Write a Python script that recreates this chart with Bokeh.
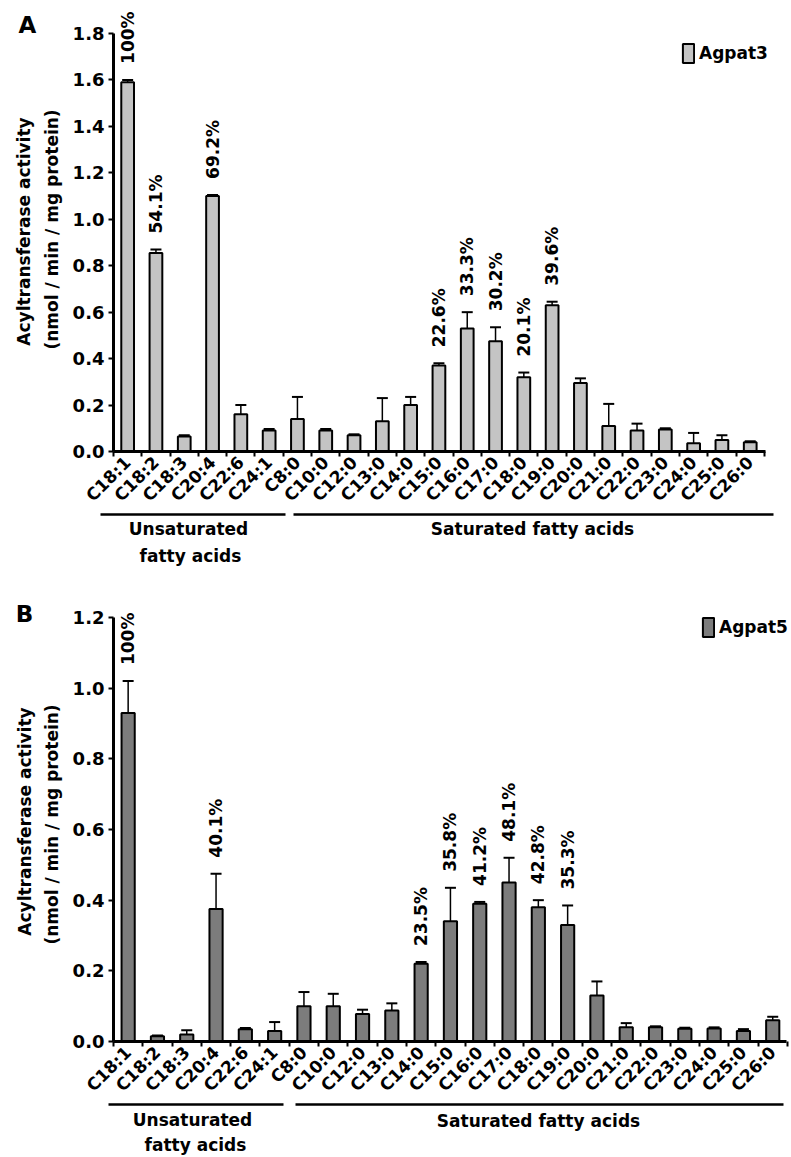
import math
from bokeh.plotting import figure
from bokeh.models import (Range1d, FixedTicker, Whisker, TeeHead, ColumnDataSource,
                          LabelSet, Label, Legend, LegendItem, Arrow, NumeralTickFormatter)
from bokeh.layouts import column
from bokeh.embed import file_html
from bokeh.resources import INLINE
from bokeh.core.properties import value

# ---------------- data ----------------
categories = ["C18:1", "C18:2", "C18:3", "C20:4", "C22:6", "C24:1", "C8:0", "C10:0",
              "C12:0", "C13:0", "C14:0", "C15:0", "C16:0", "C17:0", "C18:0", "C19:0",
              "C20:0", "C21:0", "C22:0", "C23:0", "C24:0", "C25:0", "C26:0"]

agpat3_mean = [1.59, 0.855, 0.065, 1.10, 0.16, 0.09, 0.14, 0.09, 0.07, 0.13, 0.20, 0.37,
               0.53, 0.475, 0.32, 0.63, 0.295, 0.11, 0.09, 0.095, 0.035, 0.05, 0.04]
agpat3_sem = [0.01, 0.015, 0.005, 0.005, 0.04, 0.007, 0.095, 0.007, 0.004, 0.10, 0.035, 0.01,
              0.07, 0.06, 0.02, 0.015, 0.02, 0.095, 0.03, 0.005, 0.045, 0.02, 0.004]
agpat3_pct = ["100%", "54.1%", "", "69.2%", "", "", "", "", "", "", "", "22.6%",
              "33.3%", "30.2%", "20.1%", "39.6%", "", "", "", "", "", "", ""]

agpat5_mean = [0.93, 0.015, 0.02, 0.375, 0.035, 0.03, 0.10, 0.10, 0.078, 0.088, 0.22, 0.34,
               0.39, 0.45, 0.38, 0.33, 0.13, 0.04, 0.04, 0.036, 0.037, 0.03, 0.06]
agpat5_sem = [0.09, 0.002, 0.012, 0.10, 0.003, 0.025, 0.04, 0.035, 0.012, 0.02, 0.005, 0.095,
              0.005, 0.07, 0.02, 0.055, 0.04, 0.012, 0.003, 0.003, 0.003, 0.005, 0.01]
agpat5_pct = ["100%", "", "", "40.1%", "", "", "", "", "", "", "23.5%", "35.8%",
              "41.2%", "48.1%", "42.8%", "35.3%", "", "", "", "", "", "", ""]

yticks_a = [0.0, 0.2, 0.4, 0.6, 0.8, 1.0, 1.2, 1.4, 1.6, 1.8]
yticks_b = [0.0, 0.2, 0.4, 0.6, 0.8, 1.0, 1.2]

y_title = ["Acyltransferase activity", "(nmol / min / mg protein)"]
group_names = ["Unsaturated", "fatty acids", "Saturated fatty acids"]

FONT = "DejaVu Sans"
W = 790
X0 = 0   # page x of the figures' left edge


def panel(letter, name, mean, sem, pct, fill, yticks, L):
    fl, fr, ft, fb = L["frame"]          # axis box edges in page pixels
    ax0, ax1 = -0.5, L["xmax"]
    ay0, ay1 = yticks[0], yticks[-1]
    top = L["fig_top"]
    H = L["fig_h"]

    def fx(px):
        return ax0 + (px - fl) / (fr - fl) * (ax1 - ax0)

    def fy(py):
        return ay0 + (fb - py) / (fb - ft) * (ay1 - ay0)

    p = figure(width=W, height=H, output_backend="svg", toolbar_location=None,
               x_range=Range1d(fx(X0), fx(X0 + W)), y_range=Range1d(fy(top + H), fy(top)),
               min_border=0)
    p.outline_line_color = None
    p.xgrid.visible = False
    p.ygrid.visible = False

    xs = list(range(len(categories)))
    src = ColumnDataSource(dict(x=xs, top=mean,
                                upper=[m + s for m, s in zip(mean, sem)],
                                lower=[max(m - s, 0) for m, s in zip(mean, sem)]))
    r = p.vbar(x="x", top="top", width=0.45, source=src, fill_color=fill,
               line_color="black", line_width=2)
    p.add_layout(Whisker(source=src, base="x", upper="upper", lower="lower",
                         line_color="black", line_width=1.5,
                         upper_head=TeeHead(size=11, line_width=2, line_color="black"),
                         lower_head=TeeHead(size=11, line_width=2, line_color="black")))

    # percentage labels
    gap = 16 * (ay1 - ay0) / (fb - ft)
    idx = [i for i, t in enumerate(pct) if t]
    lsrc = ColumnDataSource(dict(x=idx, y=[mean[i] + sem[i] + gap for i in idx],
                                 t=[pct[i] for i in idx]))
    p.add_layout(LabelSet(x="x", y="y", text="t", source=lsrc, angle=math.pi / 2,
                          text_align="left", text_baseline="middle",
                          text_font=value(FONT), text_font_style="bold",
                          text_font_size="17px", text_color="black"))

    # x axis (drawn at y = 0)
    xa = p.xaxis[0]
    xa.fixed_location = 0
    xa.bounds = (ax0, ax1)
    xa.ticker = FixedTicker(ticks=xs, minor_ticks=[i - 0.5 for i in range(len(xs) + 1)])
    xa.major_label_overrides = {i: c for i, c in enumerate(categories)}
    xa.major_tick_line_color = None
    xa.minor_tick_out = 5
    xa.minor_tick_in = 0
    xa.minor_tick_line_width = 2
    xa.minor_tick_line_color = "black"
    xa.axis_line_width = 3
    xa.axis_line_color = "black"
    xa.major_label_orientation = math.pi / 4
    xa.major_label_text_font = FONT
    xa.major_label_text_font_style = "bold"
    xa.major_label_text_font_size = "17px"
    xa.major_label_text_color = "black"
    xa.major_label_standoff = 2

    # y axis (drawn at x = -0.5)
    ya = p.yaxis[0]
    ya.fixed_location = ax0
    ya.bounds = (ay0, ay1)
    ya.ticker = FixedTicker(ticks=yticks, minor_ticks=[])
    ya.formatter = NumeralTickFormatter(format="0.0")
    ya.axis_line_width = 3
    ya.axis_line_color = "black"
    ya.major_tick_out = 5
    ya.major_tick_in = 0
    ya.major_tick_line_width = 2
    ya.major_tick_line_color = "black"
    ya.minor_tick_line_color = None
    ya.major_label_text_font = FONT
    ya.major_label_text_font_style = "bold"
    ya.major_label_text_font_size = "18px"
    ya.major_label_text_color = "black"
    ya.major_label_standoff = 4

    # legend (location relative to the frame, which is the whole figure)
    lx, lb = L["leg"]
    lg = Legend(items=[LegendItem(label=name, renderers=[r])],
                location=(lx - X0, top + H - lb), glyph_width=14, glyph_height=24,
                label_standoff=4, padding=0, margin=0, spacing=0,
                border_line_color=None, background_fill_alpha=0,
                label_text_font=FONT, label_text_font_style="bold",
                label_text_font_size="17px", label_text_color="black")
    p.add_layout(lg)

    def lab(text, px, py, size, angle=0.0):
        p.add_layout(Label(x=fx(px), y=fy(py), text=text, angle=angle,
                           text_align="center", text_baseline="middle",
                           text_font=FONT, text_font_style="bold",
                           text_font_size=size, text_color="black"))

    lab(letter, *L["letter"], "23px")
    lab(y_title[0], *L["yt1"], "17px", math.pi / 2)
    lab(y_title[1], *L["yt2"], "17px", math.pi / 2)
    lab(group_names[0], *L["g1"], "17px")
    lab(group_names[1], *L["g2"], "17px")
    lab(group_names[2], *L["g3"], "17px")

    gy = L["gline_y"]
    for a, b in L["glines"]:
        p.add_layout(Arrow(start=None, end=None, x_start=fx(a), y_start=fy(gy),
                           x_end=fx(b), y_end=fy(gy), line_width=2.5, line_color="black"))
    return p


LA = dict(fig_top=0, fig_h=574, frame=(113, 765, 33, 451), xmax=22.54,
          leg=(681, 65), letter=(27, 24), yt1=(23, 231), yt2=(51, 229),
          g1=(188, 528), g2=(190, 555), g3=(532, 528),
          gline_y=514, glines=[(100, 285), (293, 773)])
LB = dict(fig_top=574, fig_h=582, frame=(113, 786, 617, 1041), xmax=22.47,
          leg=(701, 639), letter=(24, 613), yt1=(24, 821), yt2=(51, 824),
          g1=(192, 1119), g2=(195, 1144), g3=(538, 1120),
          gline_y=1104, glines=[(108, 283), (295, 783)])

pA = panel("A", "Agpat3", agpat3_mean, agpat3_sem, agpat3_pct, "#c4c4c4", yticks_a, LA)
pB = panel("B", "Agpat5", agpat5_mean, agpat5_sem, agpat5_pct, "#7c7c7c", yticks_b, LB)

layout = column(pA, pB)
open("out.html", "w").write(file_html(layout, INLINE))
